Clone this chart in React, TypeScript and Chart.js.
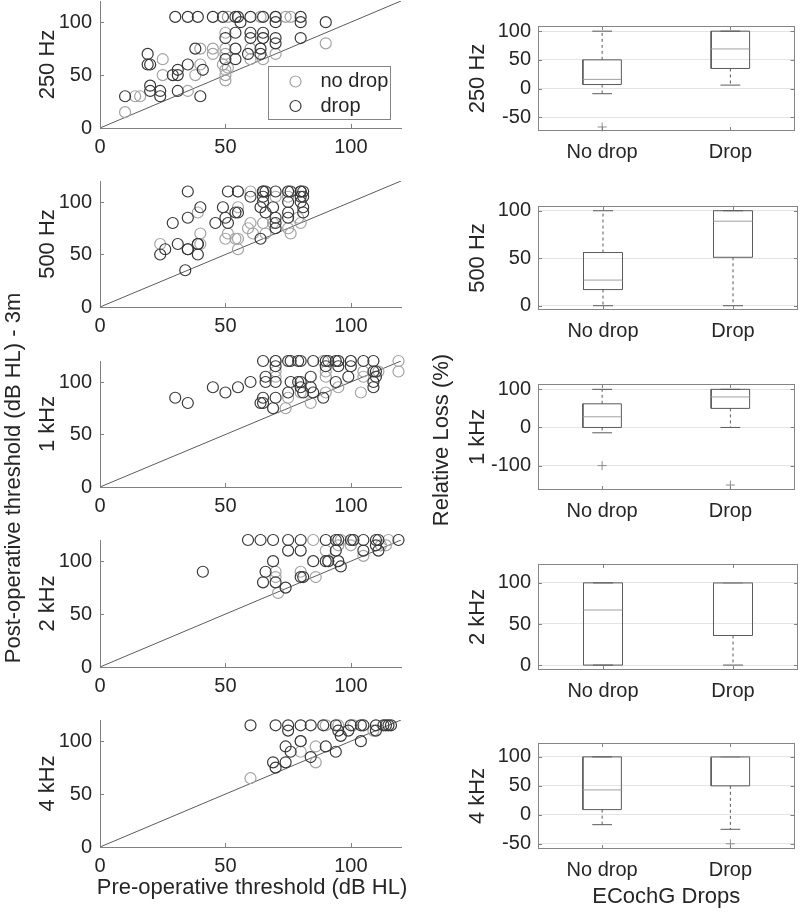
import React, { useEffect, useRef } from "react";
import { Chart, registerables } from "chart.js";

Chart.register(...registerables);

// ---------------- data ----------------
const frequencyLabels = ["250 Hz", "500 Hz", "1 kHz", "2 kHz", "4 kHz"];
const groupLabels = ["No drop", "Drop"];
const seriesLabels = ["no drop", "drop"];
const thresholdTicks = [0, 50, 100];
const thresholdRange = [0, 120];
const identityLine = [0, 120];

const yTitleLeft = "Post-operative threshold (dB HL) - 3m";
const xTitleLeft = "Pre-operative threshold (dB HL)";
const yTitleRight = "Relative Loss (%)";
const xTitleRight = "ECochG Drops";

// 250 Hz
const pre250NoDrop = [10, 14, 16, 25, 25, 35, 38, 40, 40, 45, 45, 49, 50, 50, 50, 50, 51, 50, 50, 60, 60, 65, 65, 70, 90, 51, 64, 70, 74, 76];
const post250NoDrop = [15, 30, 30, 65, 50, 35, 50, 60, 75, 75, 70, 60, 90, 75, 70, 55, 57, 50, 45, 75, 65, 65, 85, 70, 80, 105, 105, 105, 105, 105];
const pre250Drop = [10, 19, 19, 20, 20, 20, 24, 24, 31, 31, 29, 31, 35, 38, 40, 41, 50, 50, 54, 54, 54, 60, 59, 60, 65, 65, 64, 64, 70, 70, 70, 80, 80, 90, 56, 30, 35, 39, 45, 49, 54, 55, 60, 65, 70, 80];
const post250Drop = [30, 70, 60, 60, 40, 35, 35, 30, 35, 55, 50, 50, 60, 75, 30, 55, 85, 65, 90, 75, 65, 90, 70, 85, 90, 85, 75, 70, 100, 85, 80, 100, 85, 100, 100, 105, 105, 105, 105, 105, 105, 105, 105, 105, 105, 105];

// 500 Hz
const pre500NoDrop = [55, 60, 65, 75, 70, 75, 55, 39, 79, 60, 65, 69, 80, 59, 75, 40, 51, 61, 66, 76, 50, 54, 55, 24, 40, 55];
const post500NoDrop = [110, 110, 110, 110, 105, 105, 95, 90, 85, 80, 80, 80, 80, 75, 75, 70, 70, 70, 70, 70, 65, 65, 65, 60, 60, 55];
const pre500Drop = [35, 51, 55, 65, 65, 66, 70, 75, 76, 80, 80, 81, 60, 65, 80, 81, 65, 75, 80, 40, 49, 64, 69, 81, 54, 55, 66, 75, 81, 35, 50, 70, 75, 29, 46, 51, 70, 70, 64, 31, 39, 39, 26, 35, 35, 24, 39, 34];
const post500Drop = [110, 110, 110, 110, 110, 110, 110, 110, 110, 110, 110, 110, 105, 105, 105, 105, 100, 100, 100, 95, 95, 95, 95, 95, 90, 90, 90, 90, 90, 85, 85, 85, 85, 80, 80, 80, 80, 75, 65, 60, 60, 60, 55, 55, 55, 50, 50, 35];

// 1 kHz
const pre1kNoDrop = [70, 89, 95, 100, 119, 70, 90, 105, 111, 119, 70, 90, 105, 95, 80, 90, 104, 75, 84, 74];
const post1kNoDrop = [120, 120, 120, 120, 120, 110, 110, 110, 110, 110, 105, 105, 105, 95, 90, 90, 90, 85, 80, 75];
const pre1kDrop = [65, 70, 75, 76, 79, 80, 85, 90, 91, 94, 95, 100, 105, 109, 70, 90, 95, 100, 109, 110, 66, 84, 99, 110, 60, 66, 70, 76, 79, 80, 94, 109, 45, 55, 80, 84, 109, 50, 75, 81, 85, 30, 65, 70, 89, 35, 64, 65, 69];
const post1kDrop = [120, 120, 120, 120, 120, 120, 120, 120, 120, 120, 120, 120, 120, 120, 115, 115, 115, 115, 110, 110, 105, 105, 105, 105, 100, 100, 100, 100, 100, 100, 100, 100, 95, 95, 95, 95, 95, 90, 90, 90, 90, 85, 85, 85, 85, 80, 80, 80, 75];

// 2 kHz
const pre2kNoDrop = [85, 96, 101, 115, 95, 100, 112, 114, 90, 105, 91, 70, 80, 70, 86, 71];
const post2kNoDrop = [120, 120, 120, 120, 115, 115, 115, 115, 110, 105, 100, 90, 90, 85, 85, 70];
const pre2kDrop = [59, 64, 69, 75, 80, 90, 94, 95, 100, 101, 105, 110, 111, 119, 110, 75, 80, 94, 105, 111, 69, 85, 90, 91, 95, 96, 41, 66, 80, 81, 65, 70, 74];
const post2kDrop = [120, 120, 120, 120, 120, 120, 120, 120, 120, 120, 120, 120, 120, 120, 115, 110, 110, 110, 110, 110, 100, 100, 100, 100, 100, 95, 90, 90, 85, 85, 80, 80, 75];

// 4 kHz
const pre4kNoDrop = [90, 95, 101, 109, 80, 86, 80, 86, 60];
const post4kNoDrop = [115, 115, 115, 110, 100, 95, 90, 80, 65];
const pre4kDrop = [60, 70, 75, 80, 84, 89, 94, 100, 104, 105, 110, 113, 114, 115, 116, 75, 95, 99, 110, 96, 80, 104, 74, 90, 76, 94, 84, 69, 74, 70];
const post4kDrop = [115, 115, 115, 115, 115, 115, 115, 115, 115, 115, 115, 115, 115, 115, 115, 110, 110, 110, 110, 105, 100, 100, 95, 95, 90, 90, 85, 80, 80, 75];

// Relative loss box statistics: [lower whisker, Q1, median, Q3, upper whisker]
const loss250NoDrop = [-9, 7, 16, 50, 100];
const loss250Drop = [6, 35, 69, 100, 100];
const outliers250NoDrop = [-67];
const outliers250Drop: number[] = [];

const loss500NoDrop = [0, 17, 27, 56, 100];
const loss500Drop = [0, 51, 89, 100, 100];
const outliers500NoDrop: number[] = [];
const outliers500Drop: number[] = [];

const loss1kNoDrop = [-14, 0, 28, 62, 100];
const loss1kDrop = [0, 50, 80, 100, 100];
const outliers1kNoDrop = [-100];
const outliers1kDrop = [-151];

const loss2kNoDrop = [0, 0, 67, 100, 100];
const loss2kDrop = [0, 36, 100, 100, 100];
const outliers2kNoDrop: number[] = [];
const outliers2kDrop: number[] = [];

const loss4kNoDrop = [-17, 9, 43, 100, 100];
const loss4kDrop = [-25, 50, 100, 100, 100];
const outliers4kNoDrop: number[] = [];
const outliers4kDrop = [-50];

const lossRanges = [[-74, 109], [-4.5, 105], [-164, 114], [-6, 123], [-59, 124]];
const lossTicks = [[-50, 0, 50, 100], [0, 50, 100], [-100, 0, 100], [0, 50, 100], [-50, 0, 50, 100]];

const scatterSets = [
  [pre250NoDrop, post250NoDrop, pre250Drop, post250Drop],
  [pre500NoDrop, post500NoDrop, pre500Drop, post500Drop],
  [pre1kNoDrop, post1kNoDrop, pre1kDrop, post1kDrop],
  [pre2kNoDrop, post2kNoDrop, pre2kDrop, post2kDrop],
  [pre4kNoDrop, post4kNoDrop, pre4kDrop, post4kDrop],
];
const boxSets = [
  [loss250NoDrop, loss250Drop, outliers250NoDrop, outliers250Drop],
  [loss500NoDrop, loss500Drop, outliers500NoDrop, outliers500Drop],
  [loss1kNoDrop, loss1kDrop, outliers1kNoDrop, outliers1kDrop],
  [loss2kNoDrop, loss2kDrop, outliers2kNoDrop, outliers2kDrop],
  [loss4kNoDrop, loss4kDrop, outliers4kNoDrop, outliers4kDrop],
];

// ---------------- styles / layout ----------------
const FONT = "'Liberation Sans', Arial, Helvetica, sans-serif";
const TEXT = "#262626";
const AXIS = "#808080";
const NODROP = "#a3a3a3";
const DROP = "#383838";
const DIAG = "#5c5c5c";
const BOXLINE = "#5a5a5a";
const MEDIAN = "#a0a0a0";
const GRID = "#e4e4e4";
const FRAME = "#858585";

const scatterTop = [1, 181, 361, 540, 720];
const scatterBottom = [128, 307, 487, 667, 847];
const SC = { L: 100, R: 401, Wy: 70, Hx: 40, padTop: 22, padRight: 12 };

const boxTop = [26, 206, 384, 564, 743];
const boxBottom = [131, 310, 490, 670, 849];
const BX = { L: 538, R: 798, Wy: 80, Hx: 40, HxLast: 64, padTop: 22, padRight: 2 };
const BOX_HALF = 0.15;
const CAP_HALF = 0.077;

function geom(L: number, T: number, R: number, B: number, Wy: number, Hx: number, padTop: number, padRight: number) {
  const cx = L - Wy;
  const cy = T - padTop;
  return { cx, cy, cw: R + padRight - cx, ch: B + Hx - cy };
}

// ---------------- plugins ----------------
function innerTicksPlugin(sides: string[]) {
  return {
    id: "innerTicks",
    afterDatasetsDraw(chart: any) {
      const { ctx, chartArea: a, scales } = chart;
      const len = 4;
      ctx.save();
      ctx.strokeStyle = AXIS;
      ctx.lineWidth = 1;
      ctx.beginPath();
      for (const side of sides) {
        const sc = side === "left" || side === "right" ? scales.y : scales.x;
        for (const t of sc.ticks) {
          const p = Math.round(sc.getPixelForValue(t.value)) + 0.5;
          if (side === "left") { ctx.moveTo(a.left, p); ctx.lineTo(a.left + len, p); }
          if (side === "right") { ctx.moveTo(a.right, p); ctx.lineTo(a.right - len, p); }
          if (side === "bottom") { ctx.moveTo(p, a.bottom); ctx.lineTo(p, a.bottom - len); }
          if (side === "top") { ctx.moveTo(p, a.top); ctx.lineTo(p, a.top + len); }
        }
      }
      ctx.stroke();
      ctx.restore();
    },
  };
}

const framePlugin = {
  id: "frame",
  afterDatasetsDraw(chart: any) {
    const { ctx, chartArea: a } = chart;
    ctx.save();
    ctx.strokeStyle = FRAME;
    ctx.lineWidth = 1;
    ctx.strokeRect(Math.round(a.left) + 0.5, Math.round(a.top) + 0.5, Math.round(a.right - a.left) - 1, Math.round(a.bottom - a.top) - 1);
    ctx.restore();
  },
};

const boxedLegendPlugin = {
  id: "boxedLegend",
  afterDatasetsDraw(chart: any) {
    const { ctx, chartArea: a } = chart;
    const w = 122;
    const h = 53;
    const x = Math.round(a.right - 11 - w) + 0.5;
    const y = Math.round(a.bottom - 9 - h) + 0.5;
    ctx.save();
    ctx.fillStyle = "#ffffff";
    ctx.fillRect(x, y, w, h);
    ctx.strokeStyle = FRAME;
    ctx.lineWidth = 1;
    ctx.strokeRect(x, y, w, h);
    const items = chart.data.datasets.filter((d: any) => seriesLabels.includes(d.label));
    items.forEach((d: any, k: number) => {
      const cy = y + 15 + k * 24.5;
      ctx.beginPath();
      ctx.arc(x + 27, cy, 5.5, 0, Math.PI * 2);
      ctx.strokeStyle = d.pointBorderColor;
      ctx.lineWidth = 1.2;
      ctx.stroke();
      ctx.fillStyle = TEXT;
      ctx.font = `20px ${FONT}`;
      ctx.textAlign = "left";
      ctx.textBaseline = "middle";
      ctx.fillText(d.label, x + 52, cy);
    });
    ctx.restore();
  },
};

function pageTitlesPlugin(items: { text: string; x: number; y: number; rot: number; size: number }[]) {
  return {
    id: "pageTitles",
    afterDraw(chart: any) {
      const ctx = chart.ctx;
      for (const t of items) {
        ctx.save();
        ctx.translate(t.x, t.y);
        ctx.rotate(t.rot);
        ctx.font = `${t.size}px ${FONT}`;
        ctx.fillStyle = TEXT;
        ctx.textAlign = "center";
        ctx.textBaseline = "middle";
        ctx.fillText(t.text, 0, 0);
        ctx.restore();
      }
    },
  };
}

const tickFont = { family: FONT, size: 20 };
const titleFont = { family: FONT, size: 22 };

// ---------------- configs ----------------
function scatterConfig(i: number): any {
  const [xN, yN, xD, yD] = scatterSets[i];
  const pointStyle = (color: string) => ({
    pointRadius: 5.5,
    pointHoverRadius: 5.5,
    pointBorderWidth: 1.2,
    pointBorderColor: color,
    borderColor: color,
    pointBackgroundColor: "rgba(0,0,0,0)",
    backgroundColor: "rgba(0,0,0,0)",
    showLine: false,
    clip: false,
  });
  const plugins: any[] = [innerTicksPlugin(["left", "bottom"])];
  if (i === 0) plugins.push(boxedLegendPlugin);
  return {
    type: "scatter",
    data: {
      datasets: [
        { label: seriesLabels[0], data: xN.map((x, k) => ({ x, y: yN[k] })), order: 2, ...pointStyle(NODROP) },
        { label: seriesLabels[1], data: xD.map((x, k) => ({ x, y: yD[k] })), order: 1, ...pointStyle(DROP) },
        {
          label: "identity",
          data: identityLine.map((v) => ({ x: v, y: v })),
          showLine: true,
          borderColor: DIAG,
          borderWidth: 1,
          pointRadius: 0,
          order: 3,
        },
      ],
    },
    options: {
      responsive: false,
      animation: false,
      events: [],
      layout: { padding: { top: SC.padTop, right: SC.padRight, left: 0, bottom: 0 } },
      plugins: { legend: { display: false }, tooltip: { enabled: false } },
      scales: {
        x: {
          type: "linear",
          min: thresholdRange[0],
          max: thresholdRange[1],
          afterBuildTicks: (s: any) => { s.ticks = thresholdTicks.map((v) => ({ value: v })); },
          afterFit: (s: any) => { s.height = SC.Hx; },
          grid: { display: false, drawTicks: false },
          border: { display: true, color: AXIS, width: 1 },
          ticks: { font: tickFont, color: TEXT, padding: 7, maxRotation: 0, autoSkip: false },
        },
        y: {
          type: "linear",
          min: thresholdRange[0],
          max: thresholdRange[1],
          afterBuildTicks: (s: any) => { s.ticks = thresholdTicks.map((v) => ({ value: v })); },
          afterFit: (s: any) => { s.width = SC.Wy; },
          grid: { display: false, drawTicks: false },
          border: { display: true, color: AXIS, width: 1 },
          ticks: { font: tickFont, color: TEXT, padding: 8, autoSkip: false },
          title: { display: true, text: frequencyLabels[i], font: titleFont, color: TEXT, padding: { top: 4.8, bottom: 0 } },
        },
      },
    },
    plugins,
  };
}

function boxConfig(j: number): any {
  const [nd, d, outN, outD] = boxSets[j];
  const stats = [nd, d];
  const outs = [outN, outD];
  const boxes: any[] = [];
  const medians: any[] = [];
  const whiskers: any[] = [];
  const caps: any[] = [];
  const outliers: any[] = [];
  stats.forEach((s, k) => {
    const c = k + 1;
    const [lo, q1, med, q3, hi] = s;
    boxes.push({ x: c - BOX_HALF, y: q1 }, { x: c + BOX_HALF, y: q1 }, { x: c + BOX_HALF, y: q3 }, { x: c - BOX_HALF, y: q3 }, { x: c - BOX_HALF, y: q1 }, { x: c, y: null });
    medians.push({ x: c - BOX_HALF, y: med }, { x: c + BOX_HALF, y: med }, { x: c, y: null });
    whiskers.push({ x: c, y: q3 }, { x: c, y: hi }, { x: c, y: null }, { x: c, y: q1 }, { x: c, y: lo }, { x: c, y: null });
    caps.push({ x: c - CAP_HALF, y: hi }, { x: c + CAP_HALF, y: hi }, { x: c, y: null }, { x: c - CAP_HALF, y: lo }, { x: c + CAP_HALF, y: lo }, { x: c, y: null });
    outs[k].forEach((v) => outliers.push({ x: c, y: v }));
  });
  const lineDs = (data: any[], color: string, order: number, dash: number[] = []) => ({
    data,
    showLine: true,
    borderColor: color,
    borderWidth: 1,
    borderDash: dash,
    pointRadius: 0,
    spanGaps: false,
    order,
    clip: false,
  });
  const last = j === boxSets.length - 1;
  return {
    type: "scatter",
    data: {
      datasets: [
        lineDs(whiskers, BOXLINE, 5, [3, 3]),
        lineDs(caps, BOXLINE, 4),
        lineDs(boxes, BOXLINE, 3),
        lineDs(medians, MEDIAN, 2),
        {
          data: outliers,
          pointStyle: "cross",
          pointRadius: 4.5,
          pointBorderWidth: 1,
          pointBorderColor: "#8c8c8c",
          borderColor: "#8c8c8c",
          showLine: false,
          order: 1,
          clip: false,
        },
      ],
    },
    options: {
      responsive: false,
      animation: false,
      events: [],
      layout: { padding: { top: BX.padTop, right: BX.padRight, left: 0, bottom: 0 } },
      plugins: { legend: { display: false }, tooltip: { enabled: false } },
      scales: {
        x: {
          type: "linear",
          min: 0.5,
          max: 2.5,
          afterBuildTicks: (s: any) => { s.ticks = groupLabels.map((_, k) => ({ value: k + 1 })); },
          afterFit: (s: any) => { s.height = last ? BX.HxLast : BX.Hx; },
          grid: { display: false, drawTicks: false },
          border: { display: false },
          ticks: {
            font: tickFont,
            color: TEXT,
            padding: 9,
            maxRotation: 0,
            autoSkip: false,
            callback: (v: any) => groupLabels[Math.round(v) - 1] ?? "",
          },
          title: { display: last, text: xTitleRight, font: titleFont, color: TEXT, padding: { top: 0, bottom: 2.8 } },
        },
        y: {
          type: "linear",
          min: lossRanges[j][0],
          max: lossRanges[j][1],
          afterBuildTicks: (s: any) => { s.ticks = lossTicks[j].map((v) => ({ value: v })); },
          afterFit: (s: any) => { s.width = BX.Wy; },
          grid: { display: true, drawTicks: false, color: GRID, lineWidth: 1 },
          border: { display: false },
          ticks: { font: tickFont, color: TEXT, padding: 7, autoSkip: false },
          title: { display: true, text: frequencyLabels[j], font: titleFont, color: TEXT, padding: { top: 6.8, bottom: 0 } },
        },
      },
    },
    plugins: [innerTicksPlugin(["left", "right", "top", "bottom"]), framePlugin],
  };
}

const scatterGeom = scatterTop.map((t, i) => geom(SC.L, t, SC.R, scatterBottom[i], SC.Wy, SC.Hx, SC.padTop, SC.padRight));
const boxGeom = boxTop.map((t, j) =>
  geom(BX.L, t, BX.R, boxBottom[j], BX.Wy, j === boxTop.length - 1 ? BX.HxLast : BX.Hx, BX.padTop, BX.padRight)
);

export default function App() {
  const overlayRef = useRef<HTMLCanvasElement | null>(null);
  const scatterRefs = useRef<(HTMLCanvasElement | null)[]>([]);
  const boxRefs = useRef<(HTMLCanvasElement | null)[]>([]);

  useEffect(() => {
    const charts: Chart[] = [];
    if (overlayRef.current) {
      charts.push(
        new Chart(overlayRef.current, {
          type: "scatter",
          data: { datasets: [] },
          options: {
            responsive: false,
            animation: false,
            events: [],
            plugins: { legend: { display: false }, tooltip: { enabled: false } },
            scales: { x: { display: false }, y: { display: false } },
          },
          plugins: [
            pageTitlesPlugin([
              { text: yTitleLeft, x: 14, y: 478, rot: -Math.PI / 2, size: 22 },
              { text: xTitleLeft, x: 252, y: 888, rot: 0, size: 22 },
              { text: yTitleRight, x: 442, y: 440, rot: -Math.PI / 2, size: 22 },
            ]),
          ],
        } as any)
      );
    }
    scatterGeom.forEach((_, i) => {
      const c = scatterRefs.current[i];
      if (c) charts.push(new Chart(c, scatterConfig(i)));
    });
    boxGeom.forEach((_, j) => {
      const c = boxRefs.current[j];
      if (c) charts.push(new Chart(c, boxConfig(j)));
    });
    return () => charts.forEach((ch) => ch.destroy());
  }, []);

  return (
    <div style={{ position: "absolute", left: 0, top: 0, width: 800, height: 914, background: "#ffffff", overflow: "hidden" }}>
      <canvas ref={overlayRef} width={800} height={914} style={{ position: "absolute", left: 0, top: 0, width: 800, height: 914 }} />
      {scatterGeom.map((g, i) => (
        <canvas
          key={"s" + i}
          ref={(el) => { scatterRefs.current[i] = el; }}
          width={g.cw}
          height={g.ch}
          style={{ position: "absolute", left: g.cx, top: g.cy, width: g.cw, height: g.ch }}
        />
      ))}
      {boxGeom.map((g, j) => (
        <canvas
          key={"b" + j}
          ref={(el) => { boxRefs.current[j] = el; }}
          width={g.cw}
          height={g.ch}
          style={{ position: "absolute", left: g.cx, top: g.cy, width: g.cw, height: g.ch }}
        />
      ))}
    </div>
  );
}
